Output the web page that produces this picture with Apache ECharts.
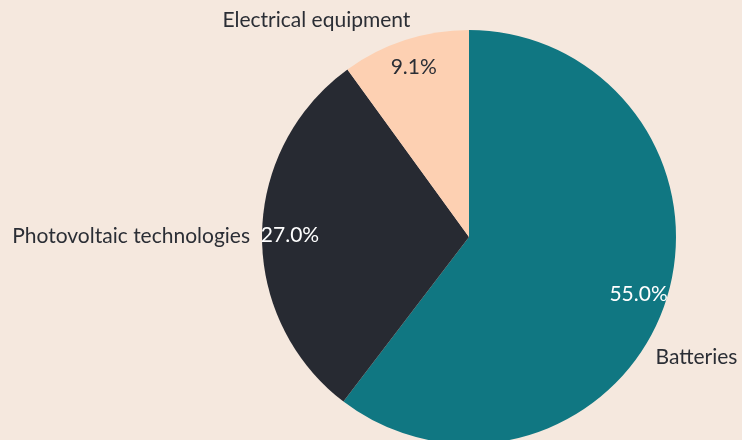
<!DOCTYPE html>
<html>
<head>
<meta charset="utf-8">
<style>
  html, body { margin: 0; padding: 0; background: #f5e8de; }
  #chart { width: 742px; height: 440px; }
</style>
<script src="https://cdn.jsdelivr.net/npm/echarts@6/dist/echarts.min.js"></script>
</head>
<body>
<div id="chart"></div>
<script>
// Share of demand by end use
const categories = ['Batteries', 'Photovoltaic technologies', 'Electrical equipment'];
const shares = [55.0, 27.0, 9.1];
const sliceColors = ['#107782', '#272a32', '#fdd0b2'];
const pctColors = ['#ffffff', '#ffffff', '#2b2e35'];

// Nudges for the outer category labels (dx, dy in px)
const nameNudge = [[-26, 50], [5, 2], [14, -8]];

const chart = echarts.init(document.getElementById('chart'), null, { renderer: 'canvas' });

const sliceData = categories.map((name, i) => ({
  name: name,
  value: shares[i],
  itemStyle: { color: sliceColors[i] }
}));

const pctData = categories.map((name, i) => ({
  name: name,
  value: shares[i],
  label: { color: pctColors[i] }
}));

chart.setOption({
  backgroundColor: '#f5e8de',
  animation: false,
  textStyle: { fontFamily: 'Lato' },
  series: [
    {
      type: 'pie',
      center: [469, 237],
      radius: 207,
      startAngle: 90,
      clockwise: true,
      avoidLabelOverlap: false,
      silent: true,
      data: sliceData,
      label: {
        show: true,
        position: 'outside',
        formatter: '{b}',
        color: '#2b2e35',
        fontFamily: 'Lato',
        fontSize: 21,
        width: 300,
        overflow: 'none'
      },
      labelLine: { show: false, length: 12, length2: 0 },
      labelLayout: function (p) {
        const n = nameNudge[p.dataIndex];
        return { dx: n[0], dy: n[1] };
      },
      emphasis: { disabled: true }
    },
    {
      type: 'pie',
      center: [469, 237],
      radius: [148, 204],
      startAngle: 90,
      clockwise: true,
      silent: true,
      data: pctData,
      itemStyle: { color: 'rgba(0,0,0,0)' },
      label: {
        show: true,
        position: 'inside',
        formatter: p => p.value.toFixed(1) + '%',
        fontFamily: 'Lato',
        fontSize: 21
      },
      labelLine: { show: false },
      emphasis: { disabled: true }
    }
  ]
});
</script>
</body>
</html>
